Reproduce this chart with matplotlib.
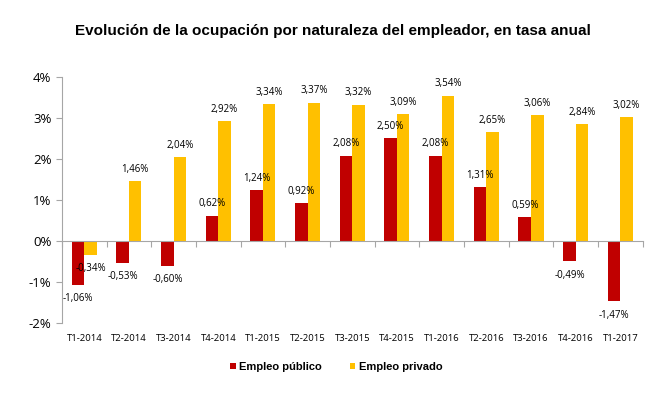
import matplotlib
matplotlib.use("Agg")
import matplotlib.pyplot as plt
import numpy as np

categories = ["T1-2014", "T2-2014", "T3-2014", "T4-2014", "T1-2015", "T2-2015", "T3-2015",
              "T4-2015", "T1-2016", "T2-2016", "T3-2016", "T4-2016", "T1-2017"]
publico = [-1.06, -0.53, -0.60, 0.62, 1.24, 0.92, 2.08, 2.50, 2.08, 1.31, 0.59, -0.49, -1.47]
privado = [-0.34, 1.46, 2.04, 2.92, 3.34, 3.37, 3.32, 3.09, 3.54, 2.65, 3.06, 2.84, 3.02]
series_names = ["Empleo público", "Empleo privado"]
yticks = [-2, -1, 0, 1, 2, 3, 4]

RED = "#C00000"
YEL = "#FFC000"
label_font = ["Open Sans", "DejaVu Sans"]

fig = plt.figure(figsize=(6.66, 3.98), dpi=100)
ax = fig.add_axes([0.093, 0.188, 0.872, 0.619])

x = np.arange(len(categories))
w = 0.28
b1 = ax.bar(x - w / 2, publico, w, color=RED, label=series_names[0])
b2 = ax.bar(x + w / 2, privado, w, color=YEL, label=series_names[1])

def fmt(v):
    return f"{v:.2f}".replace(".", ",") + "%"

for bars, vals in ((b1, publico), (b2, privado)):
    for r, v in zip(bars, vals):
        cx = r.get_x() + r.get_width() / 2
        if v >= 0:
            ax.annotate(fmt(v), (cx, v), xytext=(0, 4.5), textcoords="offset points",
                        ha="center", va="bottom", fontsize=7, family=label_font)
        else:
            ax.annotate(fmt(v), (cx, v), xytext=(0, -6), textcoords="offset points",
                        ha="center", va="top", fontsize=7, family=label_font)

ax.set_xlim(-0.5, len(categories) - 0.5)
ax.set_ylim(-2, 4)
ax.set_yticks(yticks)
ax.set_yticklabels([f"{t}%" for t in yticks], family=label_font, fontsize=9.5)

for s in ("top", "right"):
    ax.spines[s].set_visible(False)
ax.spines["left"].set_color("#A6A6A6")
ax.spines["bottom"].set_position(("data", 0))
ax.spines["bottom"].set_color("#A6A6A6")
ax.tick_params(axis="y", colors="#A6A6A6", labelcolor="black", length=4, width=0.8)

ax.set_xticks(x)
ax.set_xticklabels(categories, family=label_font, fontsize=6.8)
ax.set_xticks(np.arange(-0.5, len(categories)), minor=True)
ax.tick_params(axis="x", which="major", length=0, pad=67)
ax.tick_params(axis="x", which="minor", length=4, width=0.8, colors="#A6A6A6")

fig.text(0.5, 0.922, "Evolución de la ocupación por naturaleza del empleador, en tasa anual",
         ha="center", va="center", fontsize=11, fontweight="bold",
         family=["Liberation Sans", "DejaVu Sans"])

leg = fig.legend(handles=[b1, b2], loc="center", bbox_to_anchor=(0.505, 0.078), ncol=2,
                 frameon=False, handlelength=0.5, handleheight=0.5, handletextpad=0.3,
                 columnspacing=2.5, prop={"family": ["Liberation Sans", "DejaVu Sans"],
                                          "weight": "bold", "size": 8})

fig.savefig("out.png", dpi=100)
